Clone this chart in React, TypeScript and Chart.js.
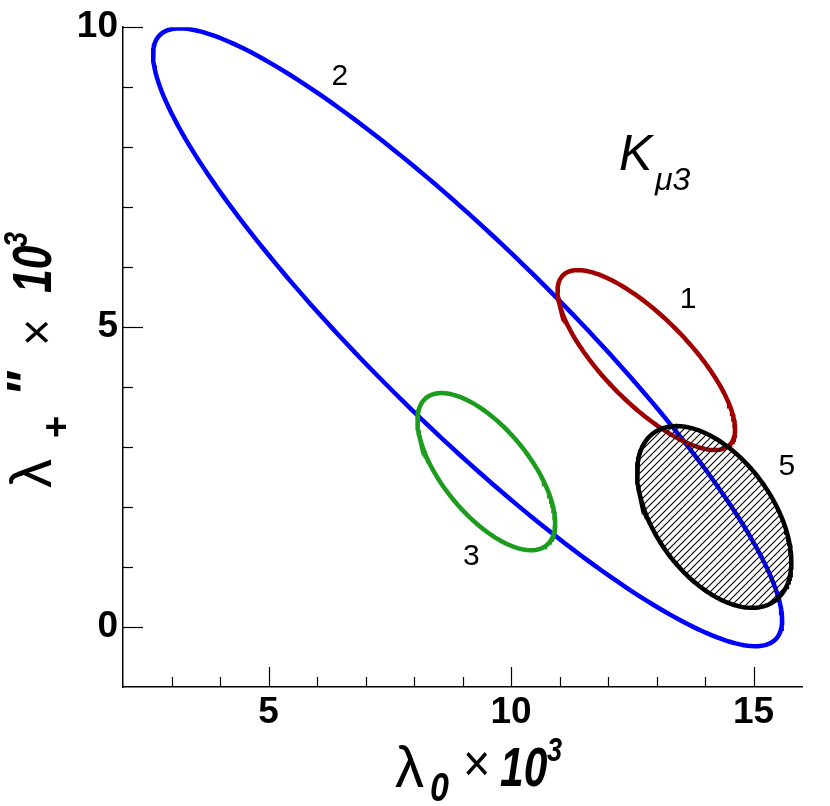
import React, { useEffect, useRef } from 'react';
import { Chart, registerables } from 'chart.js';

Chart.register(...registerables);

// axis ranges and labelled ticks
const X_MIN = 2;
const X_MAX = 16;
const Y_MIN = -1;
const Y_MAX = 10;
const xTickLabels = [5, 10, 15];
const yTickLabels = [0, 5, 10];

// ellipses: id, centre, half-extent in x and y, correlation
const ellipseIds = ['1', '2', '3', '5'];
const centerX = [12.79, 9.105, 9.49, 14.19];
const centerY = [4.45, 4.83, 2.59, 1.835];
const halfWidthX = [1.83, 6.485, 1.42, 1.59];
const halfHeightY = [1.5, 5.15, 1.31, 1.515];
const correlation = [-0.77, -0.915, -0.65, -0.49];
// label anchor (data coordinates) for each ellipse number
const labelX = [13.65, 6.47, 9.18, 15.69];
const labelY = [5.45, 9.18, 1.17, 2.67];

const ellipseColors = ['#a00000', '#0000ff', '#1c9c1c', '#000000'];
const hatched = [false, false, false, true];

const NUM_FONT = "'Liberation Sans', Arial, sans-serif";
const TXT_FONT = "'Liberation Sans', Arial, sans-serif";

function ellipsePoints(i: number) {
  const phi = Math.acos(correlation[i]);
  const pts: { x: number; y: number }[] = [];
  const n = 240;
  for (let k = 0; k <= n; k++) {
    const t = (k / n) * 2 * Math.PI;
    pts.push({
      x: centerX[i] + halfWidthX[i] * Math.cos(t),
      y: centerY[i] + halfHeightY[i] * Math.cos(t - phi),
    });
  }
  return pts;
}

function makeHatch(ctx: CanvasRenderingContext2D) {
  const s = 7;
  const c = document.createElement('canvas');
  c.width = s;
  c.height = s;
  const g = c.getContext('2d')!;
  g.strokeStyle = '#000';
  g.lineWidth = 1.1;
  g.beginPath();
  g.moveTo(-1, s + 1);
  g.lineTo(s + 1, -1);
  g.moveTo(-1, 1);
  g.lineTo(1, -1);
  g.moveTo(s - 1, s + 1);
  g.lineTo(s + 1, s - 1);
  g.stroke();
  return ctx.createPattern(c, 'repeat');
}

// draw text condensed horizontally (sx) at x,y (alphabetic baseline)
function txt(ctx: CanvasRenderingContext2D, s: string, x: number, y: number, font: string, sx = 1) {
  ctx.save();
  ctx.font = font;
  ctx.translate(x, y);
  ctx.scale(sx, 1);
  ctx.fillText(s, 0, 0);
  ctx.restore();
}

const innerTicks = {
  id: 'innerTicks',
  afterDatasetsDraw(chart: any) {
    const ctx = chart.ctx;
    const xs = chart.scales.x;
    const ys = chart.scales.y;
    ctx.save();
    ctx.strokeStyle = '#000';
    ctx.lineWidth = 1.2;
    xs.ticks.forEach((t: any, i: number) => {
      if (t.value <= X_MIN || t.value >= X_MAX) return;
      const px = Math.round(xs.getPixelForTick(i)) + 0.5;
      const len = t.value % 5 === 0 ? 20 : 10;
      ctx.beginPath();
      ctx.moveTo(px, ys.bottom);
      ctx.lineTo(px, ys.bottom - len);
      ctx.stroke();
    });
    ys.ticks.forEach((t: any, i: number) => {
      if (t.value <= Y_MIN) return;
      const py = Math.round(ys.getPixelForTick(i)) + 0.5;
      const len = t.value % 5 === 0 ? 20 : 10;
      ctx.beginPath();
      ctx.moveTo(xs.left, py);
      ctx.lineTo(xs.left + len, py);
      ctx.stroke();
    });
    ctx.restore();
  },
};

const annotations = {
  id: 'annotations',
  afterDraw(chart: any) {
    const ctx = chart.ctx;
    const xs = chart.scales.x;
    const ys = chart.scales.y;
    ctx.save();
    ctx.fillStyle = '#000';
    // ellipse numbers
    ctx.font = `30px ${TXT_FONT}`;
    ctx.textAlign = 'center';
    ctx.textBaseline = 'middle';
    ellipseIds.forEach((id, i) => {
      ctx.fillText(id, xs.getPixelForValue(labelX[i]), ys.getPixelForValue(labelY[i]));
    });
    // K_mu3
    ctx.textAlign = 'left';
    ctx.textBaseline = 'alphabetic';
    txt(ctx, 'K', 619, 170, `italic 50px ${TXT_FONT}`);
    txt(ctx, '\u03bc3', 655, 190, `italic 32px ${TXT_FONT}`);

    // x axis title: λ0 × 10^3
    txt(ctx, '\u03bb', 395, 787, `58px ${TXT_FONT}`);
    txt(ctx, '0', 430, 801, `bold italic 40px ${NUM_FONT}`, 0.85);
    txt(ctx, '\u00d7', 463, 781, `52px ${TXT_FONT}`, 0.9);
    txt(ctx, '10', 500, 786, `bold italic 56px ${NUM_FONT}`, 0.76);
    txt(ctx, '3', 547, 761, `bold italic 34px ${NUM_FONT}`, 0.8);

    // y axis title (rotated): λ+'' × 10^3
    ctx.rotate(-Math.PI / 2);
    // rotated coords: (u, v) -> screen (v, -u)
    txt(ctx, '\u03bb', -488, 51, `58px ${TXT_FONT}`);
    txt(ctx, '+', -438, 69, `bold 38px ${NUM_FONT}`);
    txt(ctx, '"', -397, 44, `bold italic 54px ${NUM_FONT}`);
    txt(ctx, '\u00d7', -346, 54, `52px ${TXT_FONT}`, 0.9);
    txt(ctx, '10', -293, 51, `bold italic 56px ${NUM_FONT}`, 0.76);
    txt(ctx, '3', -247, 27, `bold italic 34px ${NUM_FONT}`, 0.8);
    ctx.restore();
  },
};

export default function App() {
  const ref = useRef<HTMLCanvasElement>(null);
  useEffect(() => {
    const canvas = ref.current!;
    const ctx = canvas.getContext('2d')!;
    const pattern = makeHatch(ctx);
    const datasets = ellipseIds.map((id, i) => ({
      label: id,
      data: ellipsePoints(i),
      showLine: true,
      borderColor: ellipseColors[i],
      borderWidth: 4.5,
      pointRadius: 0,
      tension: 0,
      fill: hatched[i] ? 'shape' : false,
      backgroundColor: hatched[i] ? pattern : 'transparent',
      order: hatched[i] ? 0 : i === 1 ? 3 : 1,
    }));
    const chart = new Chart(canvas, {
      type: 'scatter',
      data: { datasets: datasets as any },
      options: {
        animation: false,
        responsive: false,
        devicePixelRatio: 1,
        layout: { padding: { left: 0, top: 27, right: 28, bottom: 0 } },
        plugins: { legend: { display: false }, tooltip: { enabled: false } },
        scales: {
          x: {
            type: 'linear',
            min: X_MIN,
            max: X_MAX,
            grid: { display: false, drawTicks: false },
            border: { display: true, color: '#000', width: 1.5 },
            ticks: {
              stepSize: 1,
              autoSkip: false,
              maxRotation: 0,
              padding: 4,
              color: '#000',
              font: { family: NUM_FONT, size: 37, weight: 'bold' },
              callback: (v: any) => (xTickLabels.includes(Number(v)) ? String(v) : ''),
            },
            afterFit: (s: any) => {
              s.height = 806 - 687;
            },
          },
          y: {
            type: 'linear',
            min: Y_MIN,
            max: Y_MAX,
            grid: { display: false, drawTicks: false },
            border: { display: true, color: '#000', width: 1.5 },
            ticks: {
              stepSize: 1,
              autoSkip: false,
              padding: 5,
              color: '#000',
              font: { family: NUM_FONT, size: 37, weight: 'bold' },
              callback: (v: any) => (yTickLabels.includes(Number(v)) ? String(v) : ''),
            },
            afterFit: (s: any) => {
              s.width = 123;
            },
          },
        },
      },
      plugins: [innerTicks, annotations],
    });
    return () => chart.destroy();
  }, []);
  return (
    <div style={{ position: 'fixed', left: 0, top: 0, width: 830, height: 806, background: '#fff' }}>
      <canvas ref={ref} width={830} height={806} />
    </div>
  );
}
